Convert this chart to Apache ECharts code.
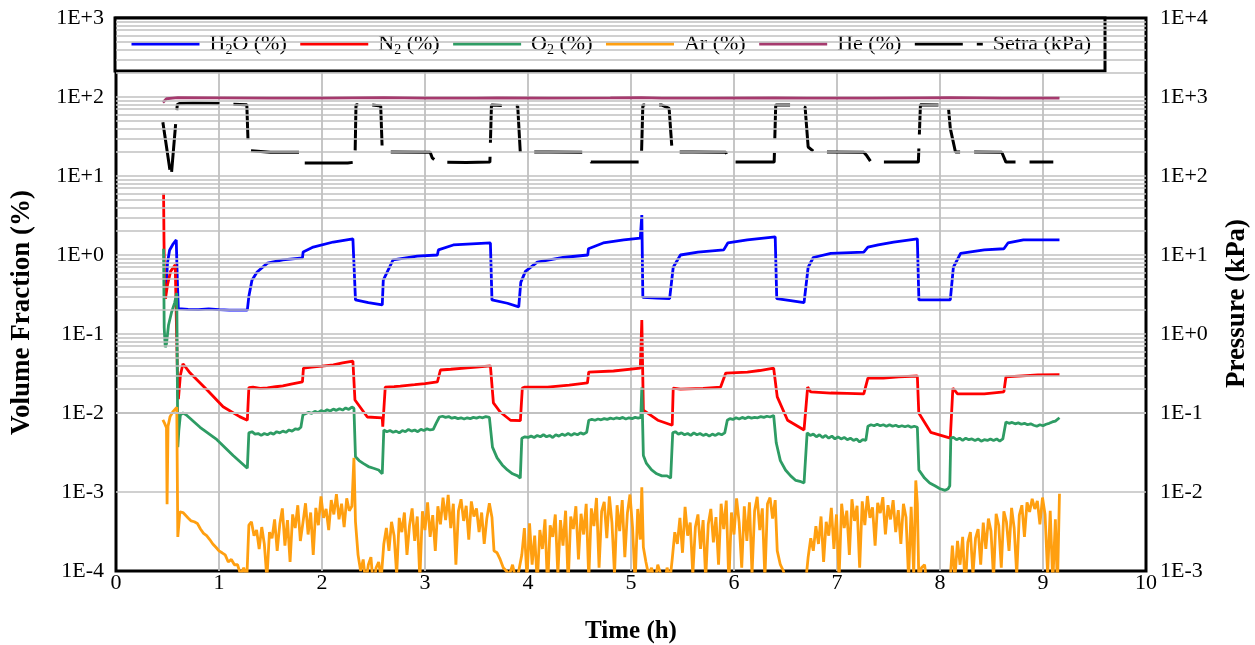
<!DOCTYPE html>
<html><head><meta charset="utf-8">
<script src="https://cdn.jsdelivr.net/npm/echarts@6/dist/echarts.min.js"></script>
<style>html,body{margin:0;padding:0;background:#fff}#c{width:1255px;height:645px}</style>
</head><body><div id="c"></div>
<script>
// ---- data: [time (h), value] ----
const seriesNames = ['H2O (%)', 'N2 (%)', 'O2 (%)', 'Ar (%)', 'He (%)', 'Setra (kPa)'];
const xTicks = [0,1,2,3,4,5,6,7,8,9,10];

const h2o = [[0.485,0.35],[0.50,0.8],[0.52,1.15],[0.55,1.35],[0.585,1.55],[0.595,0.5],[0.605,0.21],
[0.7,0.205],[0.8,0.203],[0.9,0.208],[1.0,0.204],[1.1,0.201],[1.2,0.2],[1.275,0.2],
[1.29,0.3],[1.32,0.48],[1.37,0.61],[1.47,0.79],[1.62,0.865],[1.81,0.92],[1.817,1.09],[1.915,1.26],[2.11,1.46],[2.30,1.6],[2.31,1.6],
[2.325,0.27],[2.45,0.25],[2.585,0.233],
[2.595,0.48],[2.69,0.865],[2.925,0.97],[3.12,1.0],[3.13,1.16],[3.275,1.34],[3.635,1.42],
[3.65,0.27],[3.8,0.245],[3.91,0.22],
[3.93,0.45],[3.975,0.62],[4.09,0.81],[4.34,0.93],[4.58,1.0],[4.587,1.2],[4.73,1.42],[4.93,1.55],[5.09,1.64],[5.105,3.2],[5.115,0.29],
[5.25,0.285],[5.375,0.28],[5.41,0.7],[5.48,1.0],[5.65,1.09],[5.9,1.16],[5.94,1.42],[6.13,1.55],[6.4,1.7],
[6.415,0.28],[6.55,0.265],[6.68,0.25],[6.72,0.7],[6.77,0.93],[6.94,1.05],[7.26,1.09],[7.30,1.26],[7.4,1.34],[7.55,1.46],[7.78,1.6],
[7.795,0.27],[8.1,0.27],[8.13,0.7],[8.2,1.05],[8.43,1.16],[8.62,1.2],[8.66,1.42],[8.81,1.55],[9.16,1.55]];

const n2 = [[0.462,6.0],[0.466,1.5],[0.472,0.4],[0.48,0.28],[0.50,0.42],[0.53,0.62],[0.575,0.75],[0.59,0.72],[0.60,0.018],[0.606,0.015],[0.625,0.03],[0.65,0.042],[0.72,0.032],[0.885,0.0195],[1.04,0.012],[1.2,0.009],[1.275,0.0081],
[1.29,0.021],[1.33,0.0212],[1.4,0.0205],[1.47,0.0208],[1.55,0.0215],[1.62,0.022],[1.7,0.0232],[1.81,0.0247],[1.82,0.037],[1.9,0.038],[2.0,0.0392],[2.11,0.0406],[2.2,0.043],[2.3,0.0455],
[2.32,0.0146],[2.44,0.0089],[2.585,0.0087],[2.59,0.0067],[2.614,0.0213],[2.7,0.0216],[2.76,0.0219],[2.9,0.0228],[3.0,0.0236],[3.12,0.0247],[3.15,0.035],[3.25,0.0358],[3.41,0.0372],[3.5,0.038],[3.635,0.0395],
[3.664,0.0134],[3.73,0.0103],[3.83,0.0081],[3.926,0.008],[3.945,0.0207],[3.97,0.0213],[4.19,0.0213],[4.4,0.0226],[4.577,0.024],[4.59,0.033],[4.83,0.034],[5.09,0.037],[5.105,0.15],[5.12,0.0109],[5.26,0.0081],[5.40,0.007],
[5.41,0.0207],[5.48,0.0201],[5.7,0.0205],[5.87,0.0213],[5.92,0.032],[6.13,0.033],[6.25,0.0345],[6.385,0.037],[6.42,0.016],[6.52,0.0081],[6.68,0.0061],
[6.715,0.0213],[6.745,0.0185],[6.94,0.0179],[7.1,0.0177],[7.26,0.0175],[7.30,0.0277],[7.45,0.0277],[7.6,0.0286],[7.78,0.0294],
[7.794,0.01],[7.91,0.0057],[8.10,0.0048],[8.125,0.0207],[8.17,0.0175],[8.43,0.0175],[8.62,0.0185],[8.64,0.0286],[8.8,0.0295],[8.95,0.0303],[9.16,0.0306]];

const o2 = [[0.462,1.2],[0.468,0.12],[0.478,0.068],[0.49,0.075],[0.51,0.13],[0.54,0.19],[0.57,0.25],[0.59,0.33],[0.60,0.0037],[0.61,0.006],[0.625,0.0095],[0.65,0.0100],[0.68,0.0095],[0.816,0.0066],[0.98,0.0046],[1.137,0.0029],[1.275,0.002],
[1.29,0.0056],[1.32,0.0058],[1.35,0.0054],[1.38,0.0055],[1.41,0.0052],[1.44,0.0055],[1.47,0.0053],[1.5,0.0056],[1.53,0.0054],[1.56,0.0058],[1.59,0.0056],[1.62,0.0059],[1.65,0.0057],[1.68,0.0061],[1.71,0.0059],[1.74,0.0063],[1.77,0.0062],[1.795,0.0066],
[1.815,0.0095],[1.84,0.0098],[1.87,0.0102],[1.9,0.0099],[1.93,0.0105],[1.96,0.0101],[1.99,0.0107],[2.02,0.0104],[2.05,0.011],[2.08,0.0106],[2.11,0.0112],[2.14,0.0108],[2.17,0.0113],[2.2,0.0109],[2.23,0.0116],[2.26,0.0111],[2.29,0.0119],[2.31,0.0115],
[2.325,0.0028],[2.36,0.0025],[2.4,0.0023],[2.45,0.0021],[2.5,0.0020],[2.55,0.0019],[2.585,0.0017],
[2.6,0.0061],[2.63,0.0058],[2.66,0.006],[2.69,0.0057],[2.72,0.0059],[2.75,0.0056],[2.78,0.006],[2.81,0.0058],[2.84,0.0062],[2.87,0.0059],[2.9,0.0061],[2.93,0.0058],[2.96,0.0062],[2.99,0.006],[3.02,0.0063],[3.05,0.0061],[3.08,0.0062],
[3.11,0.0075],[3.14,0.0089],[3.17,0.0091],[3.2,0.0088],[3.23,0.009],[3.26,0.0086],[3.29,0.0088],[3.32,0.0085],[3.35,0.0087],[3.38,0.0084],[3.41,0.0087],[3.44,0.0085],[3.47,0.0088],[3.5,0.0086],[3.53,0.0089],[3.56,0.0087],[3.59,0.009],[3.625,0.0088],
[3.655,0.0037],[3.7,0.0027],[3.75,0.0022],[3.8,0.0019],[3.85,0.0017],[3.9,0.0016],[3.925,0.0015],
[3.94,0.0048],[3.97,0.005],[4.0,0.0049],[4.03,0.0051],[4.06,0.0049],[4.09,0.0052],[4.12,0.005],[4.15,0.0053],[4.18,0.005],[4.21,0.0052],[4.24,0.0049],[4.27,0.0053],[4.3,0.0051],[4.33,0.0054],[4.36,0.0052],[4.39,0.0055],[4.42,0.0052],[4.45,0.0055],[4.48,0.0053],[4.51,0.0056],[4.54,0.0054],[4.57,0.0057],
[4.59,0.0081],[4.62,0.0083],[4.65,0.0081],[4.68,0.0084],[4.71,0.0082],[4.74,0.0085],[4.77,0.0083],[4.8,0.0086],[4.83,0.0084],[4.86,0.0087],[4.89,0.0085],[4.92,0.0088],[4.95,0.0084],[4.98,0.0087],[5.01,0.0085],[5.04,0.0088],[5.07,0.0086],[5.095,0.0088],
[5.105,0.021],[5.12,0.0029],[5.15,0.0023],[5.2,0.0019],[5.25,0.0017],[5.3,0.0016],[5.35,0.0016],[5.385,0.0015],
[5.405,0.0056],[5.43,0.0058],[5.46,0.0054],[5.49,0.0056],[5.52,0.0053],[5.55,0.0055],[5.58,0.0052],[5.61,0.0056],[5.64,0.0053],[5.67,0.0055],[5.7,0.0052],[5.73,0.0054],[5.76,0.0051],[5.79,0.0054],[5.82,0.0052],[5.85,0.0055],[5.88,0.0053],[5.91,0.0056],
[5.935,0.0081],[5.96,0.0085],[5.99,0.0083],[6.02,0.0087],[6.05,0.0084],[6.08,0.0088],[6.11,0.0085],[6.14,0.0089],[6.17,0.0086],[6.2,0.0088],[6.23,0.0087],[6.26,0.009],[6.29,0.0088],[6.32,0.0091],[6.35,0.0089],[6.385,0.0093],
[6.41,0.0042],[6.45,0.0025],[6.5,0.0019],[6.55,0.0016],[6.6,0.0014],[6.65,0.00135],[6.68,0.0013],
[6.71,0.0056],[6.74,0.0052],[6.77,0.0054],[6.8,0.005],[6.83,0.0053],[6.86,0.0049],[6.89,0.0052],[6.92,0.0048],[6.95,0.0051],[6.98,0.0047],[7.01,0.005],[7.04,0.0047],[7.07,0.0049],[7.1,0.0046],[7.13,0.0048],[7.16,0.0045],[7.19,0.0047],[7.22,0.0043],[7.25,0.0046],[7.28,0.0045],
[7.30,0.0068],[7.33,0.0071],[7.36,0.0069],[7.39,0.0072],[7.42,0.0069],[7.45,0.0071],[7.48,0.0068],[7.51,0.0071],[7.54,0.0068],[7.57,0.007],[7.6,0.0067],[7.63,0.0069],[7.66,0.0067],[7.69,0.0069],[7.72,0.0066],[7.75,0.0068],[7.78,0.0066],
[7.795,0.0019],[7.85,0.0015],[7.9,0.0013],[7.95,0.0012],[8.0,0.0011],[8.05,0.00105],[8.08,0.0011],[8.095,0.0012],
[8.105,0.0048],[8.13,0.0049],[8.16,0.0046],[8.19,0.0048],[8.22,0.0045],[8.25,0.0048],[8.28,0.0046],[8.31,0.0047],[8.34,0.0045],[8.37,0.0047],[8.4,0.0044],[8.43,0.0046],[8.46,0.0045],[8.49,0.0047],[8.52,0.0045],[8.55,0.0047],[8.58,0.0044],[8.61,0.0047],
[8.64,0.0077],[8.67,0.0074],[8.7,0.0076],[8.73,0.0073],[8.76,0.0075],[8.79,0.0072],[8.82,0.0074],[8.85,0.0071],[8.88,0.0073],[8.91,0.0070],[8.94,0.0068],[8.97,0.0071],[9.0,0.0069],[9.03,0.0072],[9.06,0.0074],[9.09,0.0077],[9.12,0.0079],[9.16,0.0087]];

const ar = [[0.455,0.0082],[0.47,0.0075],[0.49,0.0065],[0.496,0.0007],[0.505,0.0068],[0.525,0.009],[0.555,0.0105],[0.59,0.0118],[0.60,0.00027],[0.62,0.00056],[0.65,0.00055],[0.68,0.0005],[0.7,0.00047],[0.73,0.00043],[0.76,0.00042],[0.79,0.0004],[0.82,0.00034],[0.85,0.0003],[0.88,0.00028],[0.91,0.00025],[0.94,0.00022],[0.97,0.0002],[1.0,0.00018],[1.03,0.00017],[1.06,0.00016],[1.09,0.00013],[1.12,0.00014],[1.15,0.00012],[1.18,0.00012],[1.21,0.00009],[1.24,0.00011],[1.27,0.00008],
[1.29,0.00038],[1.315,0.00042],[1.34,0.00028],[1.365,0.00033],[1.39,0.00019],[1.415,0.00036],[1.44,0.00022],[1.465,0.00008],[1.49,0.00031],[1.515,0.00026],[1.54,0.00045],[1.565,0.00018],[1.59,0.00039],[1.615,0.00062],[1.64,0.00021],[1.665,0.00044],[1.69,0.00013],[1.715,0.00052],[1.74,0.00035],[1.765,0.00068],[1.79,0.00024],[1.815,0.00041],[1.84,0.00072],[1.865,0.00029],[1.89,0.00055],[1.915,0.00016],[1.94,0.00063],[1.965,0.00038],[1.99,0.00088],[2.015,0.00047],[2.04,0.00061],[2.065,0.00033],[2.09,0.00079],[2.115,0.00052],[2.14,0.00094],[2.165,0.00045],[2.19,0.00071],[2.215,0.00036],[2.24,0.00083],[2.265,0.00058],[2.29,0.00066],[2.31,0.0027],[2.325,0.00042],
[2.35,0.00016],[2.375,0.0001],[2.4,0.00014],[2.425,0.00007],[2.45,0.00012],[2.475,0.00015],[2.5,0.00006],[2.525,0.00011],[2.55,0.00013],[2.575,0.00008],
[2.6,0.00022],[2.625,0.00035],[2.65,0.00018],[2.675,0.00042],[2.7,0.00028],[2.725,0.00009],[2.75,0.00047],[2.775,0.00031],[2.8,0.00055],[2.825,0.00016],[2.85,0.00038],[2.875,0.00062],[2.9,0.00024],[2.925,0.00049],[2.95,0.00008],[2.975,0.00057],[3.0,0.00033],[3.025,0.00074],[3.05,0.00027],[3.075,0.00051],[3.1,0.00018],[3.125,0.00066],[3.15,0.00039],[3.175,0.00085],[3.2,0.00044],[3.225,0.00092],[3.25,0.00035],[3.275,0.00071],[3.3,0.00012],[3.325,0.00058],[3.35,0.00081],[3.375,0.00043],[3.4,0.00067],[3.425,0.00025],[3.45,0.00076],[3.475,0.00049],[3.5,0.00062],[3.525,0.00031],[3.55,0.00055],[3.575,0.00022],[3.6,0.00046],[3.625,0.00072],
[3.65,0.00048],[3.67,0.00018],[3.7,0.00017],[3.73,0.00014],[3.76,0.00011],[3.79,0.0001],[3.82,0.00009],[3.85,0.00012],[3.88,0.00008],[3.91,0.0001],
[3.94,0.00016],[3.965,0.00035],[3.99,0.00008],[4.015,0.0004],[4.04,0.00012],[4.065,0.00028],[4.09,0.00007],[4.115,0.00033],[4.14,0.00019],[4.165,0.00045],[4.19,0.00006],[4.215,0.00038],[4.24,0.00027],[4.265,0.00052],[4.29,0.00009],[4.315,0.00044],[4.34,0.00021],[4.365,0.00058],[4.39,0.00007],[4.415,0.00049],[4.44,0.00034],[4.465,0.00066],[4.49,0.00014],[4.515,0.00053],[4.54,0.00029],[4.565,0.00071],[4.59,0.00008],[4.615,0.00062],[4.64,0.00037],[4.665,0.00084],[4.69,0.00011],[4.715,0.00057],[4.74,0.00075],[4.765,0.00026],[4.79,0.00088],[4.815,0.00041],[4.84,0.00009],[4.865,0.00068],[4.89,0.00032],[4.915,0.00079],[4.94,0.00015],[4.965,0.00054],[4.99,0.00093],[5.015,0.00036],[5.04,0.00007],[5.065,0.00061],[5.09,0.00025],[5.105,0.00115],
[5.12,0.0002],[5.145,0.00013],[5.17,0.00009],[5.2,0.00011],[5.23,0.00007],[5.26,0.00012],[5.29,0.00009],[5.32,0.00006],[5.35,0.00011],[5.38,0.00008],
[5.4,0.00014],[5.425,0.00031],[5.45,0.00022],[5.475,0.00047],[5.5,0.00017],[5.525,0.00065],[5.55,0.00028],[5.575,0.00041],[5.6,0.00009],[5.625,0.00036],[5.65,0.00052],[5.675,0.00019],[5.7,0.00044],[5.725,0.00008],[5.75,0.00039],[5.775,0.00061],[5.8,0.00023],[5.825,0.00048],[5.85,0.00012],[5.875,0.00071],[5.9,0.00034],[5.925,0.00078],[5.95,0.00007],[5.975,0.00055],[6.0,0.00029],[6.025,0.00083],[6.05,0.00041],[6.075,0.00011],[6.1,0.00066],[6.125,0.00024],[6.15,0.00074],[6.175,0.00009],[6.2,0.00058],[6.225,0.00087],[6.25,0.00033],[6.275,0.00062],[6.3,0.00008],[6.325,0.00071],[6.35,0.00085],[6.375,0.00046],[6.4,0.00079],
[6.42,0.00018],[6.45,0.00012],[6.48,0.0001],[6.51,0.00007],[6.54,0.00009],[6.57,0.00006],[6.6,0.00008],[6.63,0.00005],[6.66,0.00007],[6.69,0.00006],
[6.72,0.00015],[6.745,0.00026],[6.77,0.00018],[6.795,0.00037],[6.82,0.00022],[6.845,0.00049],[6.87,0.00013],[6.895,0.00042],[6.92,0.00028],[6.945,0.00063],[6.97,0.00019],[6.995,0.00052],[7.02,0.00008],[7.045,0.00071],[7.07,0.00035],[7.095,0.00058],[7.12,0.00016],[7.145,0.00081],[7.17,0.00043],[7.195,0.00067],[7.22,0.00011],[7.245,0.00076],[7.27,0.00038],[7.295,0.00089],[7.32,0.00047],[7.345,0.00064],[7.37,0.00021],[7.395,0.00073],[7.42,0.00054],[7.445,0.00086],[7.47,0.00029],[7.495,0.00068],[7.52,0.00045],[7.545,0.00079],[7.57,0.00031],[7.595,0.00059],[7.62,0.00022],[7.645,0.00071],[7.67,0.00048],[7.695,0.00008],[7.72,0.00065],[7.745,0.00009],[7.765,0.0014],[7.78,0.00072],[7.795,0.00007],
[7.82,0.00011],[7.85,0.00012],[7.88,0.00006],[7.91,0.00005],[7.94,0.00005],[7.97,0.00004],[8.0,0.00005],[8.03,0.00009],[8.06,0.00004],[8.09,0.00005],
[8.12,0.00021],[8.145,0.00008],[8.17,0.00024],[8.195,0.00012],[8.22,0.00027],[8.245,0.00006],[8.27,0.00023],[8.295,0.00031],[8.32,0.00009],[8.345,0.00026],[8.37,0.00034],[8.395,0.00012],[8.42,0.00041],[8.445,0.00019],[8.47,0.00046],[8.495,0.00032],[8.52,0.00008],[8.545,0.00053],[8.57,0.00038],[8.595,0.00011],[8.62,0.00057],[8.645,0.00042],[8.67,0.00018],[8.695,0.00063],[8.72,0.00035],[8.745,0.00009],[8.77,0.00051],[8.795,0.00068],[8.82,0.00027],[8.845,0.00074],[8.87,0.00056],[8.895,0.00082],[8.92,0.00061],[8.945,0.00077],[8.97,0.00039],[8.995,0.00085],[9.02,0.00052],[9.045,0.00009],[9.07,0.00058],[9.095,0.00007],[9.12,0.00045],[9.14,0.00006],[9.16,0.00095]];

const he = [[0.455,85],[0.47,90],[0.49,95],[0.55,97],[0.6,98],[1.0,97.5],[1.5,97],[2.0,96.5],[2.3,97.5],[2.6,98],[3.0,97],[3.5,96.5],[3.7,97.5],[4.2,97],[4.8,97.5],[5.1,98],[5.3,97],[5.8,96.5],[6.4,97.5],[6.7,97],[7.3,96.5],[7.8,97.5],[8.1,98],[8.6,97],[9.16,97]];

const setra = [[0.455,480],[0.47,470],[0.535,95],[0.595,800],[0.62,830],[0.75,840],[0.9,835],[1.1,815],[1.27,800],[1.285,210],[1.30,201],[1.5,200],[1.78,200],[1.80,150],[1.82,146],[2.0,146],[2.25,146],[2.32,150],[2.33,800],[2.45,800],[2.57,770],[2.585,210],[2.61,201],[3.05,200],[3.07,170],[3.12,150],[3.4,148],[3.63,150],[3.645,790],[3.9,770],[3.925,201],[4.2,201],[4.55,200],[4.58,165],[4.61,150],[5.1,150],[5.115,790],[5.3,790],[5.37,720],[5.40,201],[5.6,201],[5.92,200],[5.95,160],[5.97,150],[6.39,150],[6.405,790],[6.6,790],[6.69,750],[6.72,233],[6.78,201],[7.26,200],[7.29,180],[7.33,150],[7.79,150],[7.81,800],[8.08,790],[8.1,400],[8.15,201],[8.6,200],[8.64,150],[9.1,150]];

// ---- chart ----
const FONT = '"Liberation Serif","Times New Roman",serif';
const GRID = '#c0c0c0';
function fmtE(v){ const e = Math.round(Math.log10(v)); return '1E' + (e < 0 ? '-' : '+') + Math.abs(e); }
const minorLines = [];
for (let d = -4; d < 3; d++) for (let k = 2; k < 10; k++) minorLines.push({ yAxis: k * Math.pow(10, d) });
const legendText = { 'H2O (%)': 'H{s|2}O (%)', 'N2 (%)': 'N{s|2} (%)', 'O2 (%)': 'O{s|2} (%)' };
const colors = ['#0000ff', '#ff0000', '#2e9c64', '#ff9f10', '#a63a6e', '#000000'];
const dataSets = [h2o, n2, o2, ar, he, setra];

const chart = echarts.init(document.getElementById('c'));
const series = [{
  type: 'line', name: '_grid', data: [], z: 1, silent: true, yAxisIndex: 0,
  markLine: { silent: true, symbol: ['none', 'none'], label: { show: false }, animation: false,
    lineStyle: { color: GRID, width: 1.5, type: 'solid' }, emphasis: { disabled: true }, data: minorLines }
}];
seriesNames.forEach((n, i) => {
  series.push({
    type: 'line', name: n, data: dataSets[i], yAxisIndex: i === 5 ? 1 : 0,
    symbol: 'none', silent: true, z: 2 + i * 0.01,
    lineStyle: { color: colors[i], width: i === 5 ? 3 : 2.8, type: i === 5 ? [48, 14] : 'solid' },
    itemStyle: { color: colors[i] }, emphasis: { disabled: true }
  });
});

chart.setOption({
  animation: false,
  backgroundColor: '#fff',
  grid: { left: 116, right: 109, top: 18, bottom: 74, show: true, borderColor: '#000', borderWidth: 3,
    containLabel: false, outerBoundsMode: 'none' },
  graphic: [{ type: 'rect', z: 3, silent: true, shape: { x: 115, y: 18, width: 990, height: 53 },
    style: { fill: '#fff', stroke: '#000', lineWidth: 3 } }],
  legend: {
    data: seriesNames, left: 130, top: 31, itemWidth: 68, itemHeight: 14, itemGap: 12, padding: 0,
    selectedMode: false, z: 4,
    formatter: n => legendText[n] || n,
    itemStyle: { opacity: 0, borderWidth: 0 },
    lineStyle: { width: 3 },
    textStyle: { fontFamily: FONT, fontSize: 22, color: '#000', lineHeight: 26, padding: [0, 0, 0, 5],
      rich: { s: { fontFamily: FONT, fontSize: 14, color: '#000', verticalAlign: 'bottom' } } }
  },
  xAxis: {
    type: 'value', min: 0, max: 10, interval: 1,
    axisLine: { show: false }, axisTick: { show: false },
    axisLabel: { fontFamily: FONT, fontSize: 22, color: '#000', margin: 1 },
    splitLine: { show: true, showMinLine: false, showMaxLine: false, lineStyle: { color: GRID, width: 1.8 } },
    name: 'Time (h)', nameLocation: 'middle', nameGap: 48,
    nameTextStyle: { fontFamily: FONT, fontSize: 25, fontWeight: 'bold', color: '#000' }
  },
  yAxis: [{
    type: 'log', logBase: 10, min: 1e-4, max: 1e3,
    axisLine: { show: false }, axisTick: { show: false },
    axisLabel: { formatter: fmtE, fontFamily: FONT, fontSize: 22, color: '#000', margin: 12, showMinLabel: true, showMaxLabel: true },
    splitLine: { show: true, showMinLine: false, showMaxLine: false, lineStyle: { color: GRID, width: 1.5 } },
    name: 'Volume Fraction (%)', nameLocation: 'middle', nameRotate: 90, nameGap: 80,
    nameTextStyle: { fontFamily: FONT, fontSize: 27, fontWeight: 'bold', color: '#000', padding: [0, 36, 0, 0] }
  }, {
    type: 'log', logBase: 10, min: 1e-3, max: 1e4, position: 'right',
    axisLine: { show: false }, axisTick: { show: false },
    axisLabel: { formatter: fmtE, fontFamily: FONT, fontSize: 22, color: '#000', margin: 14, showMinLabel: true, showMaxLabel: true },
    splitLine: { show: false },
    name: 'Pressure (kPa)', nameLocation: 'middle', nameRotate: 90, nameGap: 78,
    nameTextStyle: { fontFamily: FONT, fontSize: 27, fontWeight: 'bold', color: '#000', padding: [0, 18, 0, 0] }
  }],
  series: series
});
</script>
</body></html>
